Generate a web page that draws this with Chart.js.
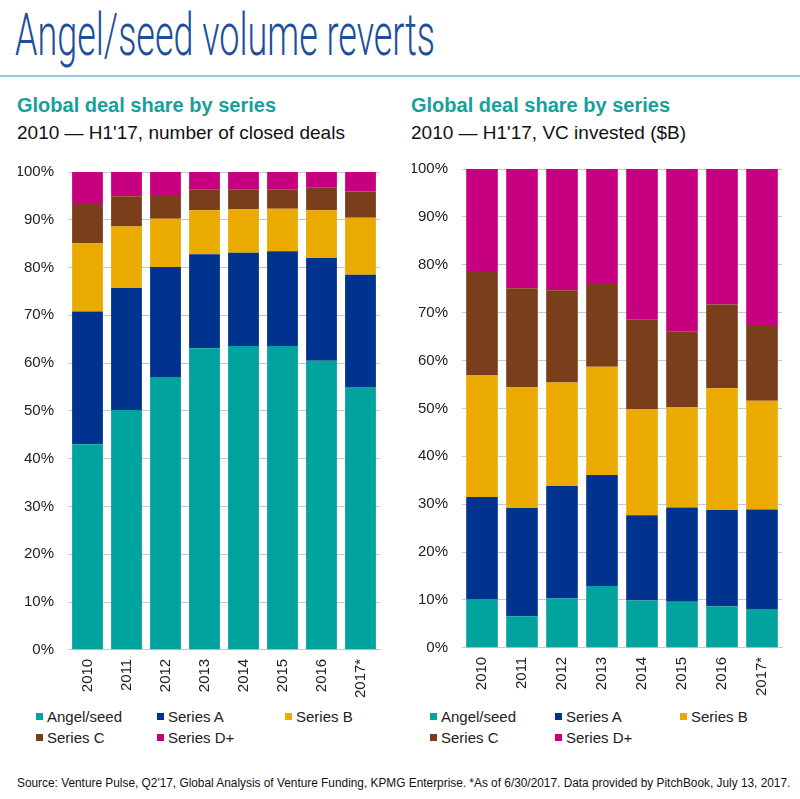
<!DOCTYPE html>
<html>
<head>
<meta charset="utf-8">
<script src="https://cdn.jsdelivr.net/npm/chart.js@4"></script>
<style>
  body { margin: 0; background: #fff; width: 800px; height: 799px; position: relative; overflow: hidden; font-family: Arial, "Liberation Sans", sans-serif; }
  #title { position: absolute; left: 15px; top: 0px; font-family: Roboto, "DejaVu Sans", sans-serif; font-weight: 300; font-size: 60px; color: #1d4f9c; white-space: nowrap; transform-origin: 0 0; line-height: 70px; }
  #rule { position: absolute; left: 0; top: 75px; width: 800px; height: 2px; background: #8cc8e4; }
  .sub1 { position: absolute; font-weight: bold; font-size: 20px; color: #17a09b; white-space: nowrap; }
  .sub2 { position: absolute; font-size: 19px; color: #111; white-space: nowrap; }
  canvas { position: absolute; }
  .legend { position: absolute; font-size: 15px; color: #222; }
  .legend span { position: absolute; white-space: nowrap; }
  .legend i { display: inline-block; width: 7px; height: 7px; margin-right: 4px; vertical-align: 2px; }
  #foot { position: absolute; left: 17px; top: 776px; font-size: 12.5px; color: #111; white-space: nowrap; transform-origin: 0 0; }
</style>
</head>
<body>
<div id="title">Angel/seed volume reverts</div>
<div id="rule"></div>

<div class="sub1" style="left:17px; top:94px;">Global deal share by series</div>
<div class="sub2" style="left:17px; top:122px;">2010 — H1'17, number of closed deals</div>
<div class="sub1" style="left:411px; top:94px;">Global deal share by series</div>
<div class="sub2" style="left:411px; top:122px;">2010 — H1'17, VC invested ($B)</div>

<canvas id="left" width="392" height="558" style="left:0; top:149px;"></canvas>
<canvas id="right" width="400" height="559" style="left:394px; top:146px;"></canvas>

<div class="legend" id="legLeft"></div>
<div class="legend" id="legRight"></div>

<div id="foot">Source: Venture Pulse, Q2'17, Global Analysis of Venture Funding, KPMG Enterprise. *As of 6/30/2017. Data provided by PitchBook, July 13, 2017.</div>

<script>
const years = ['2010', '2011', '2012', '2013', '2014', '2015', '2016', '2017*'];
const seriesNames = ['Angel/seed', 'Series A', 'Series B', 'Series C', 'Series D+'];
const seriesColors = ['#00a39e', '#00338d', '#eaaa00', '#7a3e1a', '#c6007e'];

// number of closed deals, % share
const dealsAngel = [43.0, 50.2, 57.1, 63.1, 63.6, 63.6, 60.5, 55.0];
const dealsA     = [27.8, 25.5, 23.0, 19.7, 19.5, 19.8, 21.5, 23.5];
const dealsB     = [14.3, 12.9, 10.1,  9.2,  9.1,  8.9, 10.0, 11.9];
const dealsC     = [ 8.4,  6.3,  5.0,  4.3,  4.2,  4.1,  4.7,  5.5];
const dealsD     = [ 6.5,  5.1,  4.8,  3.7,  3.6,  3.6,  3.3,  4.1];

// VC invested, % share
const vcAngel = [10.2,  6.6, 10.3, 12.9,  9.9,  9.6,  8.7,  8.1];
const vcA     = [21.3, 22.6, 23.5, 23.2, 17.8, 19.7, 20.1, 20.8];
const vcB     = [25.5, 25.2, 21.6, 22.6, 22.2, 21.0, 25.4, 22.7];
const vcC     = [21.7, 20.7, 19.3, 17.3, 18.7, 15.8, 17.5, 15.8];
const vcD     = [21.3, 24.9, 25.3, 24.0, 31.4, 33.9, 28.3, 32.6];

const yTicks = [0, 10, 20, 30, 40, 50, 60, 70, 80, 90, 100];

function makeChart(id, values, padLeft) {
  new Chart(document.getElementById(id), {
    type: 'bar',
    data: {
      labels: years,
      datasets: values.map((v, i) => ({
        label: seriesNames[i],
        data: v,
        backgroundColor: seriesColors[i],
        borderWidth: 0,
        categoryPercentage: 0.79,
        barPercentage: 1
      }))
    },
    options: {
      responsive: false,
      animation: false,
      devicePixelRatio: 1,
      layout: { padding: { left: padLeft, right: 12, top: 4, bottom: 0 } },
      plugins: { legend: { display: false }, tooltip: { enabled: false } },
      scales: {
        x: {
          stacked: true,
          grid: { display: false, drawTicks: false },
          border: { display: true, color: '#c8c8c8' },
          ticks: { color: '#222', font: { size: 15, family: 'Arial' }, maxRotation: 90, minRotation: 90, padding: 9 }
        },
        y: {
          stacked: true,
          min: 0, max: 100,
          afterBuildTicks: s => { s.ticks = yTicks.map(v => ({ value: v })); },
          afterFit: s => { s.width = 50; },
          grid: { color: '#c8c8c8', drawTicks: false },
          border: { display: false },
          ticks: { color: '#222', font: { size: 15, family: 'Arial' }, padding: 14, callback: v => v + '%' }
        }
      }
    }
  });
}

makeChart('left', [dealsAngel, dealsA, dealsB, dealsC, dealsD], 18);
makeChart('right', [vcAngel, vcA, vcB, vcC, vcD], 18);

function makeLegend(id, left, top, cols) {
  const el = document.getElementById(id);
  el.style.left = left + 'px';
  el.style.top = top + 'px';
  seriesNames.forEach((name, i) => {
    const s = document.createElement('span');
    s.style.left = cols[i % 3] + 'px';
    s.style.top = (Math.floor(i / 3) * 21) + 'px';
    s.innerHTML = '<i style="background:' + seriesColors[i] + '"></i>' + name;
    el.appendChild(s);
  });
}
makeLegend('legLeft', 36, 708, [0, 121, 249]);
makeLegend('legRight', 430, 708, [0, 125, 250]);

// fit the thin title and the footer to their widths in the reference
const t = document.getElementById('title');
t.style.transform = 'scaleX(' + (420 / t.offsetWidth) + ')';
const f = document.getElementById('foot');
f.style.transform = 'scaleX(' + (773 / f.offsetWidth) + ')';
</script>
</body>
</html>
